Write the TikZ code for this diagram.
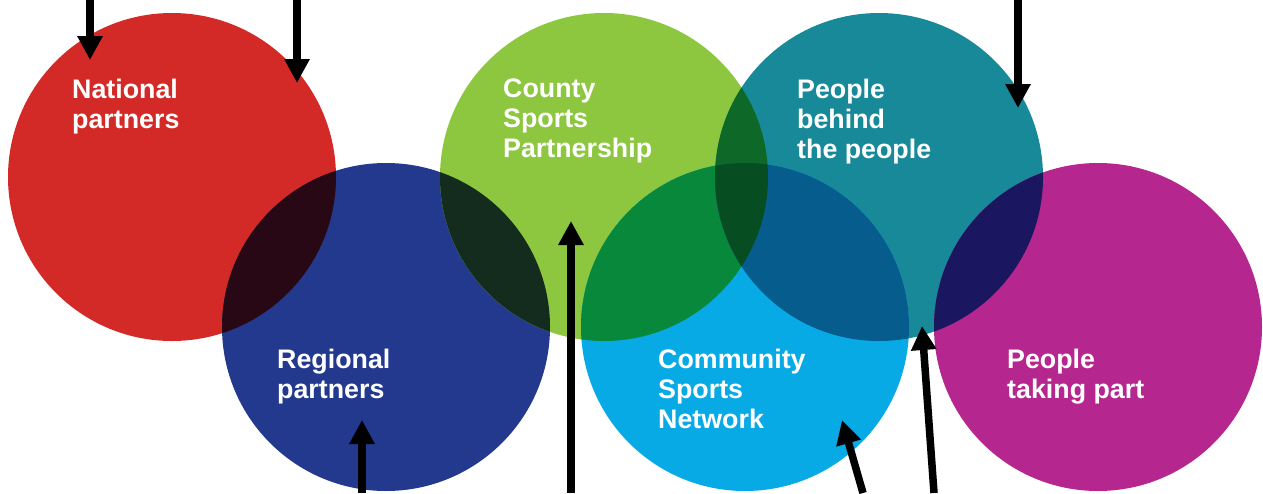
\documentclass[tikz,border=0pt]{standalone}
\usepackage{fontspec}
\setmainfont{Liberation Sans}
\usetikzlibrary{arrows.meta}
\definecolor{cRed}{RGB}{212,42,39}
\definecolor{cBlue}{RGB}{35,57,142}
\definecolor{cGreen}{RGB}{141,198,63}
\definecolor{cTeal}{RGB}{23,137,152}
\definecolor{cLight}{RGB}{8,170,230}
\definecolor{cMag}{RGB}{182,38,143}
\definecolor{cRB}{RGB}{40,8,20}
\definecolor{cGB}{RGB}{20,44,30}
\definecolor{cGL}{RGB}{8,136,58}
\definecolor{cGT}{RGB}{14,104,40}
\definecolor{cTL}{RGB}{6,92,140}
\definecolor{cGTL}{RGB}{6,78,34}
\definecolor{cTM}{RGB}{26,22,96}
\tikzset{
  disc/.style={circle, draw=none, inner sep=0pt, minimum size=328pt},
  lbl/.style={anchor=north west, inner sep=0pt, align=left, text=white,
    font=\bfseries\fontsize{26.8}{30}\selectfont},
  arr/.style={line width=7.5pt, -{Triangle[width=24pt,length=24pt]}}
}
\begin{document}
\begin{tikzpicture}[x=1pt,y=-1pt]
\useasboundingbox (0,0) rectangle (1263,493);
% circles
\node[disc, fill=cRed]   (red)   at (172,177) {};
\node[disc, fill=cBlue]  (blue)  at (386,327) {};
\node[disc, fill=cGreen] (green) at (604,177) {};
\node[disc, fill=cTeal]  (teal)  at (879,177) {};
\node[disc, fill=cLight] (light) at (745,327) {};
\node[disc, fill=cMag]   (mag)   at (1098,327) {};
% overlaps
\begin{scope}
  \clip (red.center) circle[radius=164];
  \fill[cRB] (blue.center) circle[radius=164];
\end{scope}
\begin{scope}
  \clip (blue.center) circle[radius=164];
  \fill[cGB] (green.center) circle[radius=164];
\end{scope}
\begin{scope}
  \clip (green.center) circle[radius=164];
  \fill[cGL] (light.center) circle[radius=164];
\end{scope}
\begin{scope}
  \clip (green.center) circle[radius=164];
  \fill[cGT] (teal.center) circle[radius=164];
\end{scope}
\begin{scope}
  \clip (teal.center) circle[radius=164];
  \fill[cTL] (light.center) circle[radius=164];
\end{scope}
\begin{scope}
  \clip (green.center) circle[radius=164];
  \clip (teal.center) circle[radius=164];
  \fill[cGTL] (light.center) circle[radius=164];
\end{scope}
\begin{scope}
  \clip (teal.center) circle[radius=164];
  \fill[cTM] (mag.center) circle[radius=164];
\end{scope}
% labels
\node[lbl] (tnat) at (72,79) {National\\partners};
\node[lbl] (tcsp) at (503,79) {County\\Sports\\Partnership};
\node[lbl] (tpbp) at (797,79) {People\\behind\\the people};
\node[lbl] (treg) at (277,349) {Regional\\partners};
\node[lbl] (tcsn) at (658,349) {Community\\Sports\\Network};
\node[lbl] (tptp) at (1007,349) {People\\taking part};
% arrows
\coordinate (a1s) at (90,0);    \coordinate (a1e) at (90,60);
\coordinate (a2s) at (297,0);   \coordinate (a2e) at (297,83);
\coordinate (a3s) at (1018,0);  \coordinate (a3e) at (1018,108);
\coordinate (a4s) at (362,493); \coordinate (a4e) at (362,420);
\coordinate (a5s) at (571,493); \coordinate (a5e) at (571,221);
\coordinate (a6s) at (863,493); \coordinate (a6e) at (842,420);
\coordinate (a7s) at (934,493); \coordinate (a7e) at (922,326);
\draw[arr] (a1s) -- (a1e);
\draw[arr] (a2s) -- (a2e);
\draw[arr] (a3s) -- (a3e);
\draw[arr] (a4s) -- (a4e);
\draw[arr] (a5s) -- (a5e);
\draw[arr] (a6s) -- (a6e);
\draw[arr] (a7s) -- (a7e);
\end{tikzpicture}
\end{document}
